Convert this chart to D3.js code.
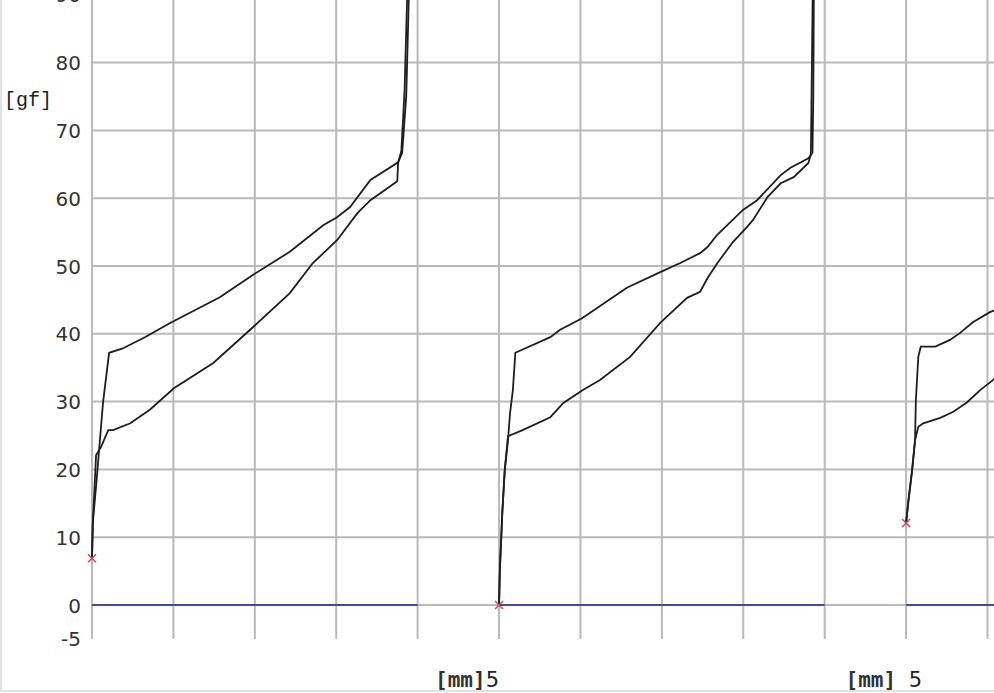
<!DOCTYPE html>
<html>
<head>
<meta charset="utf-8">
<script src="https://cdn.jsdelivr.net/npm/d3@7"></script>
<style>
  body { margin: 0; background: #fff; }
  svg { display: block; }
</style>
</head>
<body>
<div id="chart"></div>
<script>
var svgWidth = 994;
var svgHeight = 693;

// tick values
var yTicks = [-5, 0, 10, 20, 30, 40, 50, 60, 70, 80, 90];
var yGrid = [0, 10, 20, 30, 40, 50, 60, 70, 80, 90];
var xGrid = [0, 1, 2, 3, 4, 5, 6, 7, 8, 9, 10, 11];

// panels start at these mm offsets on the shared grid
var panelOffsets = [0, 5, 10];
var baselineEnd = [4, 4, 5];
var startForce = [6.9, 0, 12.1];

// [mm, gf], one pair of strokes per panel
var p1Upper = [[0, 6.9], [0.01, 12.1], [0.06, 18.9], [0.135, 29.8], [0.21, 37.2], [0.37, 37.8],
  [0.65, 39.5], [0.96, 41.6], [1.57, 45.4], [1.98, 48.7], [2.43, 52.1], [2.84, 56.0],
  [3.01, 57.2], [3.17, 58.7], [3.42, 62.7], [3.76, 65.3], [3.81, 66.7], [3.86, 75], [3.91, 98]];
var p1Lower = [[0, 6.9], [0.01, 12.1], [0.05, 22.1], [0.11, 23.3], [0.2, 25.8], [0.26, 25.8],
  [0.47, 26.8], [0.71, 28.8], [1.01, 32.0], [1.49, 35.7], [1.98, 41.0], [2.43, 46.0],
  [2.71, 50.4], [3.01, 53.8], [3.26, 57.8], [3.42, 59.7], [3.75, 62.5], [3.76, 65.2],
  [3.8, 67], [3.84, 76], [3.89, 98]];

var p2Upper = [[0, 0], [0.01, 5.2], [0.04, 13.6], [0.07, 19.9], [0.11, 24.3], [0.135, 28.3],
  [0.17, 31.7], [0.2, 37.2], [0.63, 39.5], [0.75, 40.6], [1.02, 42.3], [1.57, 46.8],
  [1.98, 49.1], [2.22, 50.4], [2.47, 51.9], [2.56, 52.8], [2.68, 54.6], [2.87, 56.8],
  [3.0, 58.3], [3.17, 59.7], [3.46, 63.4], [3.58, 64.5], [3.8, 65.9], [3.85, 66.7],
  [3.86, 75], [3.87, 98]];
var p2Lower = [[0, 0], [0.01, 5.2], [0.04, 13.6], [0.07, 19.9], [0.11, 24.9], [0.29, 25.8],
  [0.63, 27.7], [0.79, 29.8], [1.03, 31.7], [1.24, 33.2], [1.61, 36.6], [1.98, 41.6],
  [2.31, 45.3], [2.47, 46.2], [2.56, 48.2], [2.68, 50.4], [2.87, 53.5], [3.05, 55.8],
  [3.12, 56.8], [3.3, 60.2], [3.46, 62.2], [3.62, 63.1], [3.8, 65.2], [3.83, 66.5],
  [3.84, 76], [3.86, 98]];

var p3Upper = [[0, 12.1], [0.025, 15.0], [0.074, 19.9], [0.11, 24.3], [0.12, 30.2], [0.15, 36.6],
  [0.18, 38.1], [0.36, 38.1], [0.54, 39.1], [0.66, 40.1], [0.82, 41.7], [1.03, 43.2], [1.15, 43.8]];
var p3Lower = [[0, 12.1], [0.025, 15.0], [0.074, 19.9], [0.11, 24.3], [0.15, 26.3], [0.21, 26.8],
  [0.42, 27.6], [0.58, 28.5], [0.75, 29.9], [0.91, 31.7], [1.07, 33.2], [1.15, 34.2]];

var panels = [[p1Upper, p1Lower], [p2Upper, p2Lower], [p3Upper, p3Lower]];

var svg = d3.select("#chart")
  .append("svg")
  .attr("width", svgWidth)
  .attr("height", svgHeight);

svg.append("rect")
  .attr("width", svgWidth)
  .attr("height", svgHeight)
  .attr("fill", "#fff");

// scales: x in mm over the whole strip, y in gf
var xScale = d3.scaleLinear().domain([0, 11]).range([92, 987.5]);
var yScale = d3.scaleLinear().domain([-5, 95]).range([638.9, -39.1]);

// frame lines of the scan
svg.append("line").attr("x1", 1).attr("x2", 1).attr("y1", 0).attr("y2", 691)
  .attr("stroke", "#e2e2e2").attr("stroke-width", 2);
svg.append("line").attr("x1", 0).attr("x2", svgWidth).attr("y1", 691).attr("y2", 691)
  .attr("stroke", "#e2e2e2").attr("stroke-width", 2);

// grid
svg.append("g").selectAll("line")
  .data(yGrid)
  .enter()
  .append("line")
    .attr("x1", xScale(0))
    .attr("x2", svgWidth)
    .attr("y1", d => yScale(d))
    .attr("y2", d => yScale(d))
    .attr("stroke", "#b9b9b9")
    .attr("stroke-width", 2);

svg.append("g").selectAll("line")
  .data(xGrid)
  .enter()
  .append("line")
    .attr("x1", d => xScale(d))
    .attr("x2", d => xScale(d))
    .attr("y1", yScale(-5))
    .attr("y2", yScale(95))
    .attr("stroke", "#b9b9b9")
    .attr("stroke-width", 2);

// y tick labels (the 90 is cut by the top edge, as in the scan)
svg.append("g").selectAll("text")
  .data(yTicks)
  .enter()
  .append("text")
    .attr("x", 81)
    .attr("y", d => yScale(d) + 2)
    .attr("text-anchor", "end")
    .attr("dominant-baseline", "middle")
    .style("font-family", "'DejaVu Sans', sans-serif")
    .style("font-size", "20px")
    .attr("fill", "#333")
    .text(d => d < 0 ? "-" + Math.abs(d) : d);

svg.append("text")
  .attr("x", 4)
  .attr("y", 106)
  .style("font-family", "'Liberation Mono', monospace")
  .style("font-size", "20px")
  .attr("fill", "#222")
  .text("[gf]");

var line = d3.line()
  .x(d => xScale(d[0]))
  .y(d => yScale(d[1]));

panels.forEach(function(curves, i) {
  var off = panelOffsets[i];
  var g = svg.append("g");

  // zero baseline
  g.append("line")
    .attr("x1", xScale(off))
    .attr("x2", xScale(off + baselineEnd[i]))
    .attr("y1", yScale(0))
    .attr("y2", yScale(0))
    .attr("stroke", "#3c4aa0")
    .attr("stroke-width", 2);

  curves.forEach(function(c) {
    g.append("path")
      .datum(c.map(p => [p[0] + off, p[1]]))
      .attr("d", line)
      .attr("fill", "none")
      .attr("stroke", "#1e1e1e")
      .attr("stroke-width", 1.8);
  });

  // start marker
  var mx = xScale(off);
  var my = yScale(startForce[i]);
  g.append("path")
    .attr("d", `M${mx - 4},${my - 4}L${mx + 4},${my + 4}M${mx - 4},${my + 4}L${mx + 4},${my - 4}`)
    .attr("stroke", "#d04848")
    .attr("stroke-width", 1.5);
});

// x unit labels under each panel end
var mmLabels = [{mm: 5, gap: ""}, {mm: 10, gap: " "}];
mmLabels.forEach(function(m, i) {
  var t = svg.append("text")
    .attr("y", 687)
    .attr("fill", "#222");
  t.append("tspan")
    .style("font-family", "'DejaVu Sans Mono', monospace")
    .style("font-size", "21px")
    .style("font-weight", "bold")
    .attr("fill", "#333")
    .text("[mm]" + m.gap);
  t.append("tspan")
    .style("font-family", "'DejaVu Sans', sans-serif")
    .style("font-size", "21px")
    .text("5");
  var w = t.node().getComputedTextLength();
  // first label ends at the gridline, second starts just after it
  if (i == 0) t.attr("x", xScale(m.mm) - w);
  else t.attr("x", xScale(m.mm) + 16 - w);
});
</script>
</body>
</html>
